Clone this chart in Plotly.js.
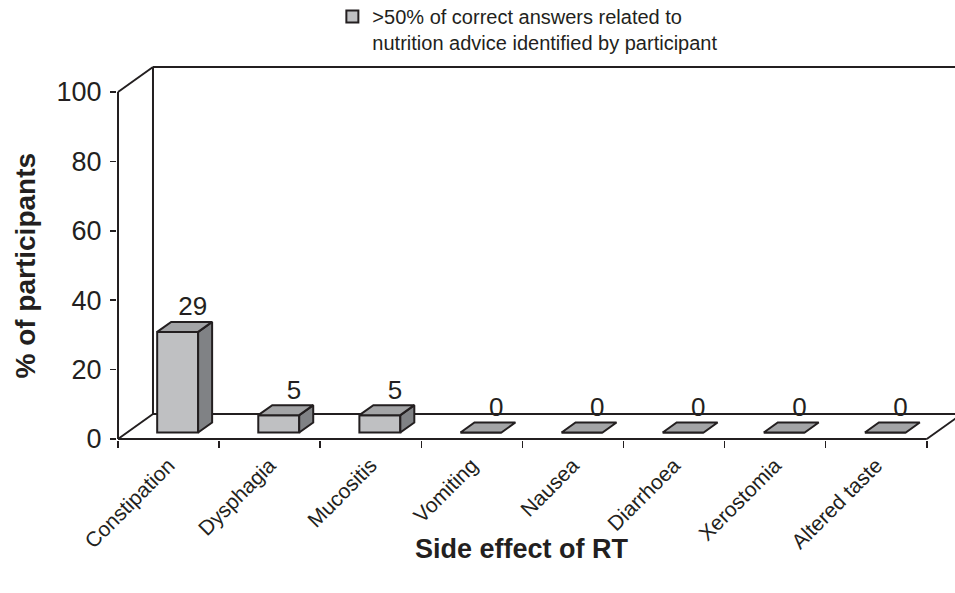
<!DOCTYPE html>
<html>
<head>
<meta charset="utf-8">
<script src="https://cdn.plot.ly/plotly-3.0.1.min.js"></script>
<style>html,body{margin:0;padding:0;background:#fff;}#chart{width:955px;height:593px;}</style>
</head>
<body>
<div id="chart"></div>
<script>
// ---- data ----
const categories = ['Constipation', 'Dysphagia', 'Mucositis', 'Vomiting', 'Nausea', 'Diarrhoea', 'Xerostomia', 'Altered taste'];
const values = [29, 5, 5, 0, 0, 0, 0, 0];
const yTickVals = [0, 20, 40, 60, 80, 100];
const seriesName = '>50% of correct answers related to<br>nutrition advice identified by participant';
const xTitle = 'Side effect of RT';
const yTitle = '% of participants';

// ---- 3-D look (styling constants) ----
const FONT = 'Liberation Sans, Arial, sans-serif';
const INK = '#231f20';
const DX = 0.346, DY = 7.2;          // floor depth offset in axis units
const F_FRONT = 0.26, F_BACK = 0.66; // bar depth position (fraction of floor depth)
const BAR_W = 0.405;
const YMAX = 100;

const idx = categories.map((_, i) => i);
const n = categories.length;
const xLeft = -0.5, xRight = n - 0.5;

const fx = F_FRONT * DX, fy = F_FRONT * DY;
const bdx = (F_BACK - F_FRONT) * DX, bdy = (F_BACK - F_FRONT) * DY;

// front faces: real bar trace
const frontTrace = {
  type: 'bar', x: idx.map(i => i + fx), y: values, base: values.map(() => fy),
  width: BAR_W, name: seriesName,
  marker: {color: '#bfc0c2', line: {color: INK, width: 2}},
  hoverinfo: 'skip', showlegend: true
};

// side and top faces
const sx = [], sy = [], tx = [], ty = [];
values.forEach((v, i) => {
  const xl = i + fx - BAR_W / 2, xr = i + fx + BAR_W / 2;
  const y0 = fy, y1 = fy + v;
  if (v > 0) {
    sx.push(xr, xr, xr + bdx, xr + bdx, xr, null);
    sy.push(y0, y1, y1 + bdy, y0 + bdy, y0, null);
  }
  tx.push(xl, xr, xr + bdx, xl + bdx, xl, null);
  ty.push(y1, y1, y1 + bdy, y1 + bdy, y1, null);
});
const sideTrace = {type: 'scatter', mode: 'lines', x: sx, y: sy, fill: 'toself', fillcolor: '#808285',
  line: {color: INK, width: 2}, showlegend: false, hoverinfo: 'skip'};
const topTrace = {type: 'scatter', mode: 'lines', x: tx, y: ty, fill: 'toself', fillcolor: '#a3a4a6',
  line: {color: INK, width: 2}, showlegend: false, hoverinfo: 'skip'};

const labelTrace = {type: 'scatter', mode: 'text', x: idx.map(i => i + 0.24), y: values.map(v => v + F_BACK * DY),
  text: values.map(String), textposition: 'top center', cliponaxis: false,
  textfont: {family: FONT, size: 26, color: INK}, showlegend: false, hoverinfo: 'skip'};

// frame (floor + walls) as shapes below the traces
function seg(x0, y0, x1, y1) {
  return {type: 'line', xref: 'x', yref: 'y', x0, y0, x1, y1, layer: 'below', line: {color: INK, width: 2}};
}
const shapes = [
  seg(xLeft, 0, xRight, 0),
  seg(xRight, 0, xRight + DX, DY),
  seg(xLeft + DX, DY, xRight + DX + 0.5, DY),
  seg(xLeft, 0, xLeft + DX, DY),
  seg(xLeft, 0, xLeft, YMAX),
  seg(xLeft, YMAX, xLeft + DX, YMAX + DY),
  seg(xLeft + DX, DY, xLeft + DX, YMAX + DY),
  seg(xLeft + DX, YMAX + DY, xRight + DX + 0.5, YMAX + DY)
];

const boundaries = [];
for (let i = 0; i <= n; i++) boundaries.push(i - 0.5);

const layout = {
  width: 955, height: 593,
  margin: {l: 117, r: 0, t: 62, b: 153, autoexpand: false},
  paper_bgcolor: '#ffffff', plot_bgcolor: '#ffffff',
  font: {family: FONT, color: INK},
  showlegend: true,
  legend: {x: 0.257, y: 1.172, xanchor: 'left', yanchor: 'top', valign: 'top',
    font: {family: FONT, size: 20, color: INK}, bgcolor: 'rgba(0,0,0,0)'},
  xaxis: {
    range: [-0.51, 7.779], tickmode: 'array', tickvals: idx, ticktext: categories,
    tickangle: -45, ticks: '', showgrid: false, zeroline: false, showline: false, automargin: false,
    ticklabelstandoff: 8,
    tickfont: {family: FONT, size: 21, color: INK},
    minor: {tickmode: 'array', tickvals: boundaries, ticks: 'outside', ticklen: 7, tickwidth: 1.5, tickcolor: INK, showgrid: false}
  },
  yaxis: {
    range: [-0.288, 108.65], tickmode: 'array', tickvals: yTickVals, ticks: 'outside', ticklen: 6,
    tickwidth: 1.5, tickcolor: INK, showgrid: false, zeroline: false, showline: false, automargin: false,
    ticklabelstandoff: 3,
    tickfont: {family: FONT, size: 27, color: INK}
  },
  annotations: [{
    xref: 'x', yref: 'paper', x: (xLeft + xRight) / 2, y: 0, yshift: -109, xanchor: 'center', yanchor: 'middle',
    text: xTitle, showarrow: false, font: {family: FONT, size: 27, weight: 'bold', color: INK}
  }, {
    xref: 'paper', yref: 'y', x: 0, xshift: -91, y: YMAX / 2, xanchor: 'center', yanchor: 'middle',
    textangle: -90, text: yTitle, showarrow: false, font: {family: FONT, size: 28, weight: 'bold', color: INK}
  }],
  shapes: shapes,
  bargap: 0
};

Plotly.newPlot('chart', [frontTrace, sideTrace, topTrace, labelTrace], layout, {displayModeBar: false, staticPlot: true});
</script>
</body>
</html>
